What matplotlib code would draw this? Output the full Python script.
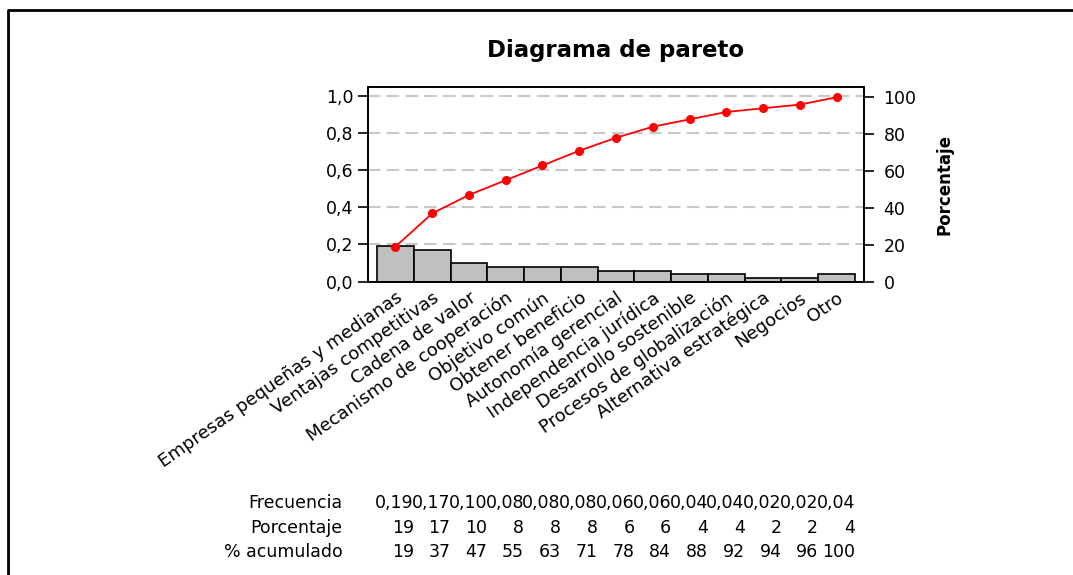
import matplotlib
matplotlib.use("Agg")
import matplotlib.pyplot as plt
import matplotlib.transforms as mtransforms
from matplotlib.lines import Line2D
import numpy as np

plt.rcParams['font.family'] = ['DejaVu Sans']

categories = ['Empresas pequeñas y medianas', 'Ventajas competitivas', 'Cadena de valor',
              'Mecanismo de cooperación', 'Objetivo común', 'Obtener beneficio',
              'Autonomía gerencial', 'Independencia jurídica', 'Desarrollo sostenible',
              'Procesos de globalización', 'Alternativa estratégica', 'Negocios', 'Otro']
frecuencia = [0.19, 0.17, 0.10, 0.08, 0.08, 0.08, 0.06, 0.06, 0.04, 0.04, 0.02, 0.02, 0.04]
porcentaje = [19, 17, 10, 8, 8, 8, 6, 6, 4, 4, 2, 2, 4]
acumulado = [19, 37, 47, 55, 63, 71, 78, 84, 88, 92, 94, 96, 100]
left_ticks = [0.0, 0.2, 0.4, 0.6, 0.8, 1.0]
right_ticks = [0, 20, 40, 60, 80, 100]

W, H = 1073, 575
fig = plt.figure(figsize=(W / 100, H / 100), dpi=100)
ax = fig.add_axes([368 / W, 1 - 281.7 / H, (864 - 368) / W, (281.7 - 86.7) / H])

x = np.arange(len(categories))
ax.bar(x, frecuencia, width=1.0, color='#c0c0c0', edgecolor='black', linewidth=1.2, zorder=2)
ax.set_xlim(-0.745, len(categories) - 1 + 0.745)
ax.set_ylim(0, 1.048)

for t in left_ticks[1:]:
    ax.axhline(t, color='#c8c8c8', linewidth=1.5, dashes=(6, 3), zorder=1)

ax.set_yticks(left_ticks)
ax.set_yticklabels([f'{t:.1f}'.replace('.', ',') for t in left_ticks])
ax.tick_params(axis='y', direction='out', length=7, width=1.2, pad=3.5, labelsize=12.5)
ax.set_xticks(x)
ax.set_xticklabels(categories, rotation=35, ha='right', rotation_mode='anchor', fontsize=13)
ax.tick_params(axis='x', length=0, pad=5)
for s in ax.spines.values():
    s.set_linewidth(1.3)

ax2 = ax.twinx()
ax2.plot(x, acumulado, color='red', linewidth=1.3, marker='o', markersize=5.5, zorder=3)
ax2.set_ylim(0, 105.7)
ax2.set_yticks(right_ticks)
ax2.tick_params(axis='y', direction='out', length=7, width=1.2, pad=7, labelsize=12.5)
ax2.set_ylabel('Porcentaje', fontsize=12, fontweight='bold', labelpad=14)
for s in ax2.spines.values():
    s.set_linewidth(1.3)

fig.text(616 / W, 1 - 56.7 / H, 'Diagrama de pareto', ha='center', va='baseline',
         fontsize=16.5, fontweight='bold')

# tabla inferior
trans = mtransforms.blended_transform_factory(ax.transData, fig.transFigure)
rows = [('Frecuencia', [f'{v:.2f}'.replace('.', ',') for v in frecuencia]),
        ('Porcentaje', [str(v) for v in porcentaje]),
        ('% acumulado', [str(v) for v in acumulado])]
baselines = [508.3, 533.3, 557.3]
for (name, vals), yb in zip(rows, baselines):
    fy = 1 - yb / H
    fig.text(342.5 / W, fy, name, ha='right', va='baseline', fontsize=12.5)
    for i, v in enumerate(vals):
        ax.text(i + 0.5, fy, v, transform=trans, ha='right', va='baseline', fontsize=12.5)

# marco
fig.add_artist(Line2D([8 / W, 8 / W, 1.0], [0.0, 1 - 10 / H, 1 - 10 / H],
                      transform=fig.transFigure, color='black', linewidth=2))

fig.savefig('out.png', dpi=100)
